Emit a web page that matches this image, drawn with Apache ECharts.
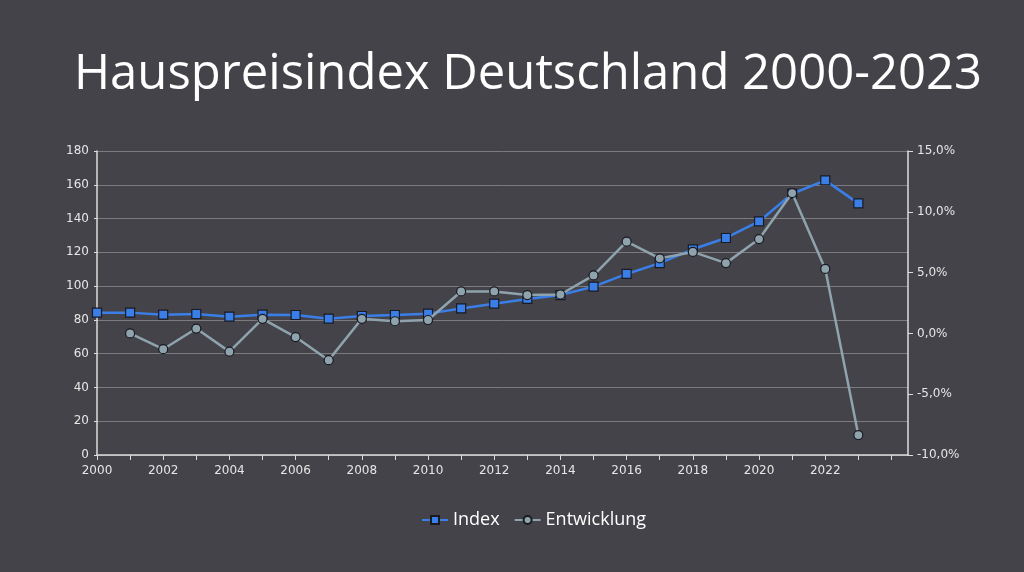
<!DOCTYPE html>
<html>
<head>
<meta charset="utf-8">
<script src="https://cdn.jsdelivr.net/npm/echarts@6/dist/echarts.min.js"></script>
<style>
html,body{margin:0;padding:0;background:#444349;}
#c{width:1024px;height:572px;}
</style>
</head>
<body>
<div id="c"></div>
<script>
const years = [2000,2001,2002,2003,2004,2005,2006,2007,2008,2009,2010,2011,2012,2013,2014,2015,2016,2017,2018,2019,2020,2021,2022,2023];
const indexValues = [84.3,84.3,83.1,83.5,81.9,83.1,82.9,80.7,82.3,82.9,83.7,86.8,89.6,92.4,94.7,99.7,107.2,113.6,121.8,128.5,138.3,154.7,162.6,149.0];
const changeValues = [null,0.0,-1.3,0.4,-1.5,1.2,-0.3,-2.2,1.2,1.0,1.1,3.45,3.45,3.15,3.2,4.77,7.54,6.17,6.7,5.78,7.76,11.54,5.3,-8.36];
const tickYears = [2000,2001,2002,2003,2004,2005,2006,2007,2008,2009,2010,2011,2012,2013,2014,2015,2016,2017,2018,2019,2020,2021,2022,2023,2024];
const labelYears = [2000,2002,2004,2006,2008,2010,2012,2014,2016,2018,2020,2022];

const chart = echarts.init(document.getElementById('c'), null, {renderer:'canvas'});
const txt = '#e6e6e6';
const lblFont = 'DejaVu Sans';
chart.setOption({
  backgroundColor:'#444349',
  animation:false,
  title:{
    text:'Hauspreisindex Deutschland 2000-2023',
    left:523, top:46, textAlign:'center',
    textStyle:{color:'#ffffff', fontSize:49, fontWeight:'normal', fontFamily:'Open Sans'}
  },
  legend:{
    bottom:38, left:416, itemWidth:26, itemHeight:10, itemGap:14,
    textStyle:{color:'#ffffff', fontSize:18, fontFamily:'Open Sans'},
    data:['Index','Entwicklung']
  },
  grid:{left:97, right:116, top:151, bottom:117},
  xAxis:{
    type:'value', min:2000, max:2024.5,
    axisLine:{show:true, lineStyle:{color:'#dcdcdc', width:1.5}},
    axisTick:{show:true, customValues:tickYears, length:5, lineStyle:{color:'#dcdcdc'}},
    axisLabel:{customValues:labelYears, color:txt, fontSize:12, fontFamily:lblFont, margin:10,
      formatter:v=>String(v)},
    splitLine:{show:false}
  },
  yAxis:[{
    type:'value', min:0, max:180, interval:20,
    axisLine:{show:true, lineStyle:{color:'#dcdcdc', width:1.5}},
    axisTick:{show:true, length:3, lineStyle:{color:'#dcdcdc'}},
    axisLabel:{color:txt, fontSize:12, fontFamily:lblFont, margin:8},
    splitLine:{show:true, lineStyle:{color:'#7c7b80', width:1}}
  },{
    type:'value', min:-10, max:15, interval:5, position:'right',
    axisLine:{show:true, lineStyle:{color:'#dcdcdc', width:1.5}},
    axisTick:{show:true, length:5, lineStyle:{color:'#dcdcdc'}},
    axisLabel:{color:txt, fontSize:12, fontFamily:lblFont, margin:9,
      formatter:v=>v.toFixed(1).replace('.',',')+'%'},
    splitLine:{show:false}
  }],
  series:[{
    name:'Index', type:'line', yAxisIndex:0,
    data:years.map((y,i)=>[y,indexValues[i]]),
    symbol:'rect', symbolSize:9,
    lineStyle:{color:'#3a7ee8', width:2.5},
    itemStyle:{color:'#3a7ee8', borderColor:'#1a1a22', borderWidth:1.2},
    z:3
  },{
    name:'Entwicklung', type:'line', yAxisIndex:1,
    data:years.map((y,i)=>[y,changeValues[i]]).filter(d=>d[1]!==null),
    symbol:'circle', symbolSize:9,
    lineStyle:{color:'#8fa3ad', width:2.5},
    itemStyle:{color:'#8fa3ad', borderColor:'#1a1a22', borderWidth:1.2},
    z:4
  }]
});
</script>
</body>
</html>
